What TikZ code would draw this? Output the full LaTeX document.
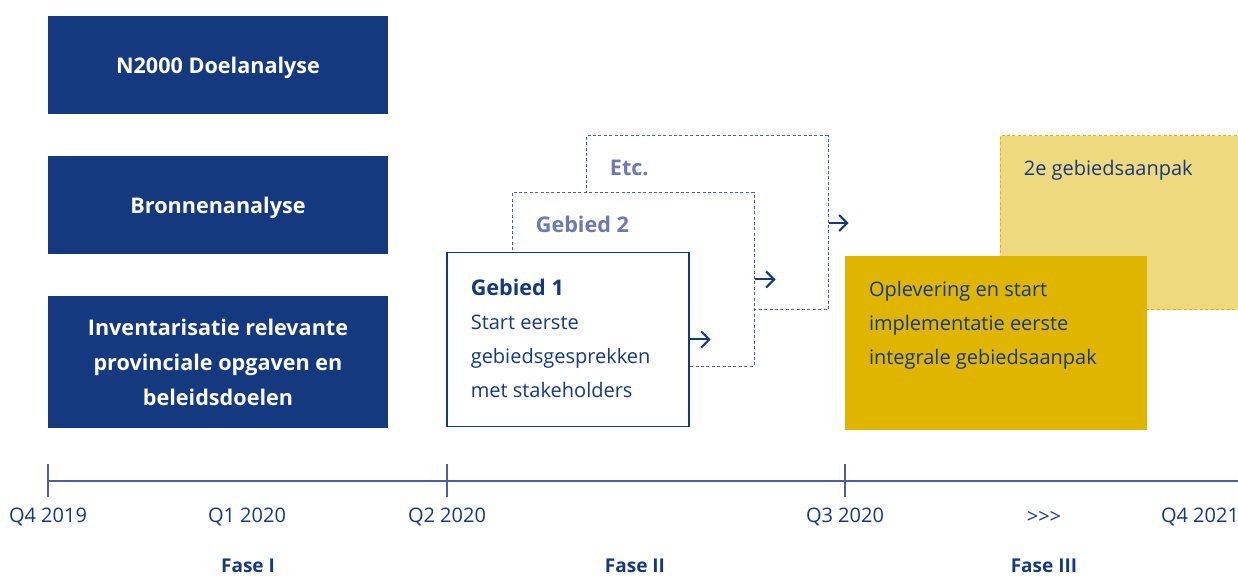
\documentclass[tikz,border=0pt]{standalone}
\usepackage{fontspec}
\setmainfont{Open Sans}
\usetikzlibrary{arrows.meta,positioning}
\definecolor{rijksblauw}{HTML}{15397F}
\definecolor{lijnblauw}{HTML}{4F5F9C}
\definecolor{grijsblauw}{HTML}{6C79B3}
\definecolor{okergeel}{HTML}{E0B500}
\definecolor{lichtgeel}{HTML}{EFD97F}
\tikzstyle{analyse} = [rectangle, fill=rijksblauw, text=white, font=\fontsize{10.8}{17.5}\selectfont\bfseries, minimum width=170pt, align=center, inner sep=0pt, text depth=0pt]
\tikzstyle{gebied} = [rectangle, minimum width=121pt, minimum height=87pt, inner sep=0pt]
\tikzstyle{stippel} = [draw=lijnblauw, line width=0.5pt, dash pattern=on 1.5pt off 1.2pt]
\tikzstyle{tekst} = [text=rijksblauw, font=\fontsize{10}{17}\selectfont, align=left, inner sep=0pt]
\tikzstyle{pijl} = [draw=rijksblauw, line width=1pt, -{Straight Barb[length=4pt,width=8pt,line join=miter]}]
\tikzstyle{kwartaal} = [text=rijksblauw, font=\fontsize{10}{11}\selectfont, inner sep=0pt]
\tikzstyle{fase} = [text=rijksblauw, font=\fontsize{9.5}{11}\selectfont\bfseries, inner sep=0pt]
\begin{document}
\begin{tikzpicture}[x=0.5pt, y=-0.5pt]
\useasboundingbox (0,0) rectangle (1238,576);
% fase I
\node(N2000)[analyse, minimum height=49pt] at (218,65) {N2000 Doelanalyse};
\node(Bron)[analyse, minimum height=49pt] at (218,205) {Bronnenanalyse};
\node(Inv)[analyse, minimum height=66pt] at (218,362) {Inventarisatie relevante\\provinciale opgaven en\\beleidsdoelen};
% fase II
\node(Etc)[gebied, stippel, fill=white] at (707,223) {};
\node(EtcT)[tekst, font=\fontsize{10.8}{17}\selectfont\bfseries, text=grijsblauw, anchor=north west] at ([xshift=12pt,yshift=-12pt]Etc.north west) {Etc.};
\node(G2)[gebied, stippel, fill=white] at (633,279.5) {};
\node(G2T)[tekst, font=\fontsize{10.8}{17}\selectfont\bfseries, text=grijsblauw, anchor=north west] at ([xshift=12pt,yshift=-12pt]G2.north west) {Gebied 2};
\node(G1)[gebied, draw=rijksblauw, line width=0.6pt, fill=white] at (568,339.5) {};
\node(G1T)[tekst, anchor=west] at ([xshift=12pt,yshift=0.5pt]G1.west) {{\fontsize{10.8}{17}\selectfont\bfseries Gebied 1}\\Start eerste\\gebiedsgesprekken\\met stakeholders};
\coordinate(p1) at ([xshift=10.5pt]G1.east);
\coordinate(p2) at ([xshift=10.5pt]G2.east);
\coordinate(p3) at ([xshift=10pt]Etc.east);
\draw[pijl](G1.east)--(p1);
\draw[pijl](G2.east)--(p2);
\draw[pijl](Etc.east)--(p3);
% fase III
\node(Aanpak2)[gebied, minimum width=121pt, fill=lichtgeel, draw=okergeel, line width=0.5pt, dash pattern=on 1.5pt off 1.2pt] at (1121,223) {};
\node(Aanpak2T)[tekst, anchor=north west] at ([xshift=12pt,yshift=-12pt]Aanpak2.north west) {2e gebiedsaanpak};
\node(Oplev)[gebied, minimum width=151pt, fill=okergeel] at (996,343) {};
\node(OplevT)[tekst, anchor=north west] at ([xshift=12pt,yshift=-12.5pt]Oplev.north west) {Oplevering en start\\implementatie eerste\\integrale gebiedsaanpak};
% tijdlijn
\coordinate(t0) at (48,481);
\coordinate(t1) at (447,481);
\coordinate(t2) at (845,481);
\coordinate(t3) at (1238,481);
\draw[lijnblauw, line width=0.6pt](t0)--(t3);
\foreach \t in {t0,t1,t2}
  \draw[lijnblauw, line width=0.6pt]([yshift=8.5pt]\t)--([yshift=-8pt]\t);
\node(Q4a)[kwartaal] at (48,517) {Q4 2019};
\node(Q1)[kwartaal] at (247,517) {Q1 2020};
\node(Q2)[kwartaal] at (447,517) {Q2 2020};
\node(Q3)[kwartaal] at (845,517) {Q3 2020};
\node(verder)[kwartaal] at (1044,517) {{>}{>}{>}};
\node(Q4b)[kwartaal] at (1200,517) {Q4 2021};
\node(F1)[fase] at (248,566) {Fase I};
\node(F2)[fase] at (635,566) {Fase II};
\node(F3)[fase] at (1044,566) {Fase III};
\end{tikzpicture}
\end{document}
